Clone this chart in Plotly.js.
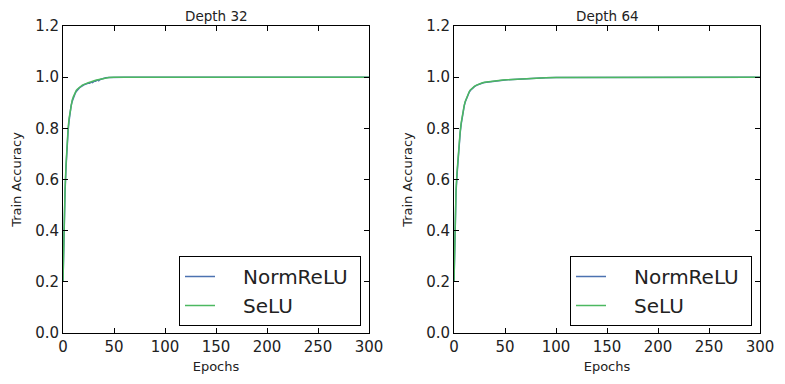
<!DOCTYPE html>
<html>
<head>
<meta charset="utf-8">
<script src="https://cdn.plot.ly/plotly-3.0.1.min.js"></script>
<style>html,body{margin:0;padding:0;background:#fff;}#chart{width:785px;height:384px;}</style>
</head>
<body>
<div id="chart"></div>
<script>
// Depth 32
const epochs32 = [0,1,2,3,4,5,6,7,8,9,10,11,12,13,14,15,16,17,18,19,20,21,22,23,24,25,26,27,28,29,30,31,32,33,34,35,36,38,40,42,45,50,60,80,100,150,200,250,300];
const normrelu32 = [0.20,0.42,0.55,0.65,0.73,0.79,0.83,0.865,0.89,0.905,0.918,0.928,0.937,0.944,0.950,0.954,0.958,0.961,0.964,0.966,0.968,0.971,0.972,0.974,0.975,0.977,0.976,0.980,0.981,0.979,0.983,0.985,0.984,0.987,0.989,0.986,0.990,0.993,0.996,0.998,0.999,1.0,1.0,1.0,1.0,1.0,1.0,1.0,1.0];
const selu32 = [0.20,0.43,0.56,0.66,0.74,0.80,0.84,0.87,0.895,0.91,0.922,0.932,0.941,0.948,0.953,0.957,0.961,0.964,0.967,0.969,0.971,0.973,0.974,0.976,0.978,0.979,0.980,0.981,0.983,0.984,0.985,0.986,0.988,0.989,0.990,0.991,0.993,0.995,0.997,0.998,0.999,1.0,1.0,1.0,1.0,1.0,1.0,1.0,1.0];
// Depth 64
const epochs64 = [0,1,2,3,4,5,6,7,8,9,10,11,12,13,14,15,16,18,20,22,24,26,28,30,33,36,40,44,48,52,56,60,65,70,75,80,90,100,150,200,250,300];
const normrelu64 = [0.20,0.45,0.55,0.62,0.68,0.73,0.78,0.815,0.845,0.868,0.887,0.903,0.915,0.926,0.935,0.942,0.948,0.957,0.963,0.968,0.972,0.975,0.977,0.979,0.981,0.983,0.985,0.987,0.988,0.990,0.991,0.992,0.993,0.994,0.995,0.996,0.998,0.999,1.0,1.0,1.0,1.0];
const selu64 = [0.20,0.46,0.56,0.63,0.69,0.74,0.785,0.82,0.85,0.872,0.89,0.905,0.917,0.928,0.937,0.944,0.950,0.958,0.964,0.969,0.973,0.976,0.978,0.980,0.982,0.984,0.986,0.988,0.989,0.990,0.991,0.992,0.994,0.995,0.996,0.997,0.998,0.999,1.0,1.0,1.0,1.0];
const seriesNames = ["NormReLU","SeLU"];
const subplotTitles = ["Depth 32","Depth 64"];
const yTicks = [0,0.2,0.4,0.6,0.8,1.0,1.2];
const xTicks = [0,50,100,150,200,250,300];

const blue = "#4c72b0", green = "#4cb860";
const font = "DejaVu Sans, sans-serif";
const lead = "\u00a0\u00a0\u00a0\u2009", trail = "\u00a0";

const traces = [
  {x: epochs32, y: normrelu32, name: lead+seriesNames[0]+trail, mode: "lines", line:{color:blue,width:1.5}, xaxis:"x", yaxis:"y", legend:"legend"},
  {x: epochs32, y: selu32, name: lead+seriesNames[1], mode: "lines", line:{color:green,width:1.5}, xaxis:"x", yaxis:"y", legend:"legend"},
  {x: epochs64, y: normrelu64, name: lead+seriesNames[0]+trail, mode: "lines", line:{color:blue,width:1.5}, xaxis:"x2", yaxis:"y2", legend:"legend2"},
  {x: epochs64, y: selu64, name: lead+seriesNames[1], mode: "lines", line:{color:green,width:1.5}, xaxis:"x2", yaxis:"y2", legend:"legend2"}
];

function xax(dom, anchor){
  return {domain: dom, anchor: anchor, range:[0,300], tickvals: xTicks, ticktext: xTicks.map(String),
    ticks:"inside", ticklen:5, tickcolor:"#000", showline:true, linecolor:"#000", linewidth:1, mirror:"ticks",
    showgrid:false, zeroline:false, tickfont:{family:font,size:15,color:"#222"},
    title:{text:"Epochs", font:{family:font,size:13,color:"#222"}, standoff:6}};
}
function yax(anchor){
  return {domain:[0.1328,0.9323], anchor: anchor, range:[0,1.2], tickvals: yTicks, ticktext: yTicks.map(v=>v.toFixed(1)),
    ticks:"inside", ticklen:5, tickcolor:"#000", showline:true, linecolor:"#000", linewidth:1, mirror:"ticks",
    showgrid:false, zeroline:false, tickfont:{family:font,size:15,color:"#222"},
    title:{text:"Train Accuracy", font:{family:font,size:13,color:"#222"}, standoff:10}};
}
const legendBase = {bordercolor:"#000", borderwidth:1, bgcolor:"#fff", font:{family:font,size:20,color:"#222"},
  xanchor:"left", yanchor:"top", itemwidth:30, tracegroupgap:0};

const layout = {
  width:785, height:384, margin:{l:0,r:0,t:0,b:0}, paper_bgcolor:"#fff", plot_bgcolor:"#fff",
  xaxis: xax([63/785,369/785],"y"),
  yaxis: yax("x"),
  xaxis2: xax([454/785,760/785],"y2"),
  yaxis2: yax("x2"),
  legend: Object.assign({}, legendBase, {x:179/785, y:(384-256)/384}),
  legend2: Object.assign({}, legendBase, {x:570/785, y:(384-256)/384}),
  annotations: [
    {text: subplotTitles[0], x:(63+369)/2/785, y:(384-16)/384, xref:"paper", yref:"paper", showarrow:false, font:{family:font,size:13.5,color:"#222"}, xanchor:"center", yanchor:"middle"},
    {text: subplotTitles[1], x:(454+760)/2/785, y:(384-16)/384, xref:"paper", yref:"paper", showarrow:false, font:{family:font,size:13.5,color:"#222"}, xanchor:"center", yanchor:"middle"}
  ],
  showlegend:true
};
Plotly.newPlot("chart", traces, layout, {displayModeBar:false, staticPlot:true});
</script>
</body>
</html>
